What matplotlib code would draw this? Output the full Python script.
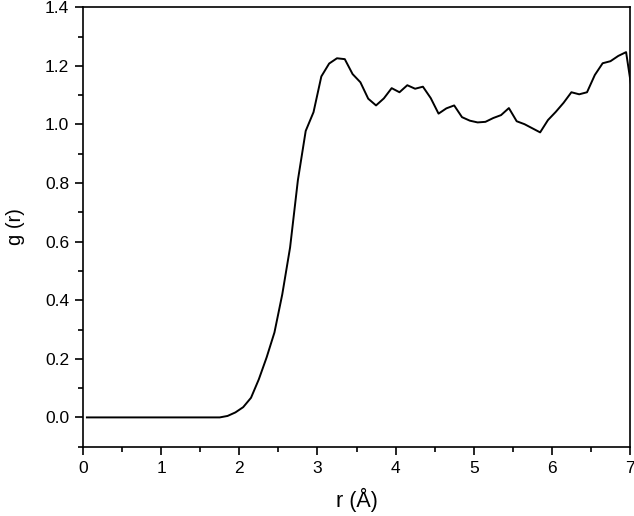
import matplotlib
matplotlib.use("Agg")
import matplotlib.pyplot as plt
from matplotlib.ticker import MultipleLocator

r_values = [
    0.05, 0.15, 0.25, 0.35, 0.45, 0.55, 0.65, 0.75, 0.85, 0.95,
    1.05, 1.15, 1.25, 1.35, 1.45, 1.55, 1.65, 1.75, 1.85, 1.95,
    2.05, 2.15, 2.25, 2.35, 2.45, 2.55, 2.65, 2.75, 2.85, 2.95,
    3.05, 3.15, 3.25, 3.35, 3.45, 3.55, 3.65, 3.75, 3.85, 3.95,
    4.05, 4.15, 4.25, 4.35, 4.45, 4.55, 4.65, 4.75, 4.85, 4.95,
    5.05, 5.15, 5.25, 5.35, 5.45, 5.55, 5.65, 5.75, 5.85, 5.95,
    6.05, 6.15, 6.25, 6.35, 6.45, 6.55, 6.65, 6.75, 6.85, 6.95,
    7.05,
]
g_values = [
    0.0, 0.0, 0.0, 0.0, 0.0, 0.0, 0.0, 0.0, 0.0, 0.0,
    0.0, 0.0, 0.0, 0.0, 0.0, 0.0, 0.0, 0.0, 0.005, 0.017,
    0.035, 0.067, 0.13, 0.205, 0.29, 0.42, 0.58, 0.81, 0.978, 1.042,
    1.164, 1.208, 1.226, 1.223, 1.172, 1.144, 1.088, 1.065, 1.089, 1.124,
    1.110, 1.134, 1.122, 1.129, 1.090, 1.037, 1.055, 1.065, 1.025, 1.013,
    1.007, 1.009, 1.022, 1.032, 1.056, 1.011, 1.001, 0.987, 0.973, 1.015,
    1.043, 1.074, 1.110, 1.103, 1.110, 1.169, 1.209, 1.216, 1.234, 1.247,
    1.07,
]
x_ticks = [0, 1, 2, 3, 4, 5, 6, 7]
y_ticks = [0.0, 0.2, 0.4, 0.6, 0.8, 1.0, 1.2, 1.4]

plt.rcParams['font.family'] = ['Liberation Sans', 'DejaVu Sans']

fig = plt.figure(figsize=(6.34, 5.16), dpi=100)
ax = fig.add_axes([83/634, 1 - 446.7/516, (630 - 83)/634, (446.7 - 7.3)/516])

ax.plot(r_values, g_values, color='black', linewidth=1.4)

ax.set_xlim(0, 7)
ax.set_ylim(-0.1, 1.4)
ax.set_xticks(x_ticks)
ax.set_xticklabels([str(t) for t in x_ticks])
ax.set_yticks(y_ticks)
ax.set_yticklabels([f"{t:.1f}" for t in y_ticks])
ax.xaxis.set_minor_locator(MultipleLocator(0.5))
ax.yaxis.set_minor_locator(MultipleLocator(0.1))

ax.tick_params(which='major', direction='out', length=5.5, width=1.2, labelsize=12.5,
               top=False, right=False, pad=4.5, colors='black')
ax.tick_params(which='minor', direction='out', length=3.5, width=1.2,
               top=False, right=False)
for s in ax.spines.values():
    s.set_linewidth(1.2)
    s.set_color('black')

ax.set_xlabel('r (Å)', fontsize=15.5, labelpad=9)
ax.set_ylabel('g (r)', fontsize=14.5, labelpad=14)

fig.savefig('out.png', dpi=100)
